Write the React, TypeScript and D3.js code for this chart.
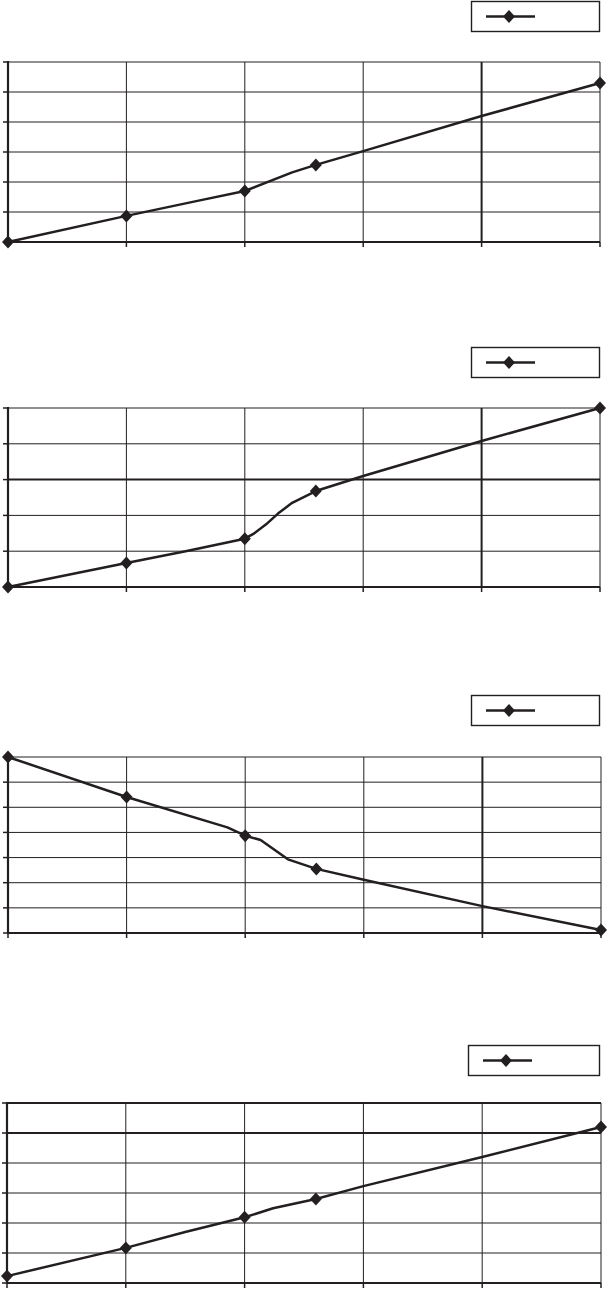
import React from "react";
import * as d3 from "d3";

// ---- data (grid units) ----
const xTicks = [0, 1, 2, 3, 4, 5];

const p1LineX = [0, 1, 1.6, 2, 2.4, 2.6, 3, 4, 5];
const p1LineY = [0, 0.87, 1.37, 1.7, 2.32, 2.57, 3.03, 4.2, 5.3];
const p1MarkX = [0, 1, 2, 2.6, 5];
const p1MarkY = [0, 0.87, 1.7, 2.57, 5.3];

const p2LineX = [0, 1, 1.5, 2, 2.08, 2.18, 2.28, 2.4, 2.6, 3, 4, 5];
const p2LineY = [0, 0.67, 1.0, 1.35, 1.5, 1.75, 2.05, 2.35, 2.68, 3.1, 4.08, 5.0];
const p2MarkX = [0, 1, 2, 2.6, 5];
const p2MarkY = [0, 0.67, 1.35, 2.68, 5.0];

const p3LineX = [0, 1, 1.85, 2, 2.13, 2.36, 2.6, 3, 4, 5];
const p3LineY = [7, 5.41, 4.2, 3.87, 3.7, 2.93, 2.55, 2.12, 1.07, 0.12];
const p3MarkX = [0, 1, 2, 2.6, 5];
const p3MarkY = [7, 5.41, 3.87, 2.55, 0.12];

const p4LineX = [0, 1, 1.5, 2, 2.24, 2.6, 3, 4, 5];
const p4LineY = [0.23, 1.17, 1.7, 2.19, 2.49, 2.8, 3.23, 4.2, 5.2];
const p4MarkX = [0, 1, 2, 2.6, 5];
const p4MarkY = [0.23, 1.17, 2.19, 2.8, 5.2];

const yMaxes = [6, 5, 7, 6];

type Panel = {
  lx: number[]; ly: number[]; mx: number[]; my: number[]; yMax: number;
  left: number; right: number; top: number; bottom: number; legTop: number; legLeft: number;
  thickH: number[]; thickV: number[];
};

const panels: Panel[] = [
  { lx: p1LineX, ly: p1LineY, mx: p1MarkX, my: p1MarkY, yMax: yMaxes[0], left: 8, right: 600, top: 62, bottom: 242, legTop: 1, legLeft: 471, thickH: [], thickV: [4] },
  { lx: p2LineX, ly: p2LineY, mx: p2MarkX, my: p2MarkY, yMax: yMaxes[1], left: 8, right: 600, top: 408, bottom: 587, legTop: 347, legLeft: 471, thickH: [3], thickV: [4] },
  { lx: p3LineX, ly: p3LineY, mx: p3MarkX, my: p3MarkY, yMax: yMaxes[2], left: 8, right: 601, top: 757, bottom: 933, legTop: 695, legLeft: 471, thickH: [], thickV: [4] },
  { lx: p4LineX, ly: p4LineY, mx: p4MarkX, my: p4MarkY, yMax: yMaxes[3], left: 7, right: 601, top: 1103, bottom: 1283, legTop: 1045, legLeft: 468, thickH: [5, 6], thickV: [] },
];

const INK = "#231f20";

function diamond(cx: number, cy: number) {
  const w = 6, h = 6.5;
  return `M${cx},${cy - h}L${cx + w},${cy}L${cx},${cy + h}L${cx - w},${cy}Z`;
}

function ChartPanel({ p }: { p: Panel }) {
  const x = d3.scaleLinear().domain([0, 5]).range([p.left, p.right]);
  const y = d3.scaleLinear().domain([0, p.yMax]).range([p.bottom, p.top]);
  const yTicks = d3.range(0, p.yMax + 1);
  const pts: [number, number][] = p.lx.map((v, i) => [v, p.ly[i]]);
  const line = d3.line<[number, number]>().x(d => x(d[0])).y(d => y(d[1]));
  const legW = 600 - p.legLeft;
  const legH = 31;
  const legY = p.legTop + legH / 2;
  return (
    <g>
      {/* legend */}
      <rect x={p.legLeft + 0.5} y={p.legTop + 0.5} width={legW - 1} height={legH - 1} fill="#fff" stroke={INK} strokeWidth={1.4} />
      <line x1={p.legLeft + 15} x2={p.legLeft + 64} y1={legY} y2={legY} stroke={INK} strokeWidth={2.6} />
      <path d={diamond(p.legLeft + 38, legY)} fill={INK} />
      {/* horizontal grid */}
      {yTicks.map(t => (
        <line key={"h" + t} x1={p.left} x2={p.right} y1={y(t)} y2={y(t)} stroke={INK}
          strokeWidth={p.thickH.includes(t) ? 2 : 1} />
      ))}
      {/* vertical grid */}
      {xTicks.map(t => (
        <line key={"v" + t} x1={x(t)} x2={x(t)} y1={p.top} y2={p.bottom} stroke={INK}
          strokeWidth={p.thickV.includes(t) ? 2 : 1} />
      ))}
      {/* left ticks */}
      {yTicks.map(t => (
        <line key={"lt" + t} x1={p.left - 5} x2={p.left} y1={y(t)} y2={y(t)} stroke={INK} strokeWidth={1.5} />
      ))}
      {/* bottom ticks */}
      {xTicks.map(t => (
        <line key={"bt" + t} x1={x(t)} x2={x(t)} y1={p.bottom} y2={p.bottom + 5} stroke={INK} strokeWidth={1.5} />
      ))}
      {/* axes */}
      <line x1={p.left} x2={p.left} y1={p.top - 1} y2={p.bottom + 1} stroke={INK} strokeWidth={2.2} />
      <line x1={p.left} x2={p.right} y1={p.bottom} y2={p.bottom} stroke={INK} strokeWidth={2.2} />
      {/* series */}
      <path d={line(pts) || ""} fill="none" stroke={INK} strokeWidth={2.5} strokeLinejoin="round" />
      {p.mx.map((v, i) => (
        <path key={"m" + i} d={diamond(x(v), y(p.my[i]))} fill={INK} />
      ))}
    </g>
  );
}

export default function App() {
  return (
    <svg width={609} height={1289} style={{ position: "absolute", left: 0, top: 0, background: "#fff" }}>
      <rect x={0} y={0} width={609} height={1289} fill="#fff" />
      {panels.map((p, i) => <ChartPanel key={i} p={p} />)}
    </svg>
  );
}
